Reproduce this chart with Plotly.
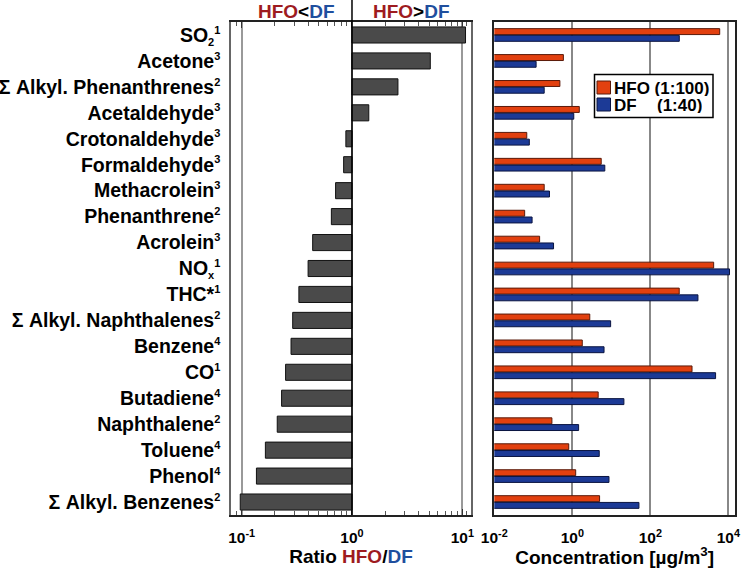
import plotly.graph_objects as go

SUP = "<sup><span style='font-size:11px'>{}</span></sup>"
SUB = "<sub><span style='font-size:11px'>{}</span></sub>"

categories = [
    "SO" + SUB.format("2") + SUP.format("1"), "Acetone" + SUP.format("3"),
    "Σ Alkyl. Phenanthrenes" + SUP.format("2"), "Acetaldehyde" + SUP.format("3"),
    "Crotonaldehyde" + SUP.format("3"), "Formaldehyde" + SUP.format("3"),
    "Methacrolein" + SUP.format("3"), "Phenanthrene" + SUP.format("2"),
    "Acrolein" + SUP.format("3"), "NO" + SUB.format("x") + SUP.format("1"),
    "THC*" + SUP.format("1"), "Σ Alkyl. Naphthalenes" + SUP.format("2"),
    "Benzene" + SUP.format("4"), "CO" + SUP.format("1"), "Butadiene" + SUP.format("4"),
    "Naphthalene" + SUP.format("2"), "Toluene" + SUP.format("4"), "Phenol" + SUP.format("4"),
    "Σ Alkyl. Benzenes" + SUP.format("2"),
]
ratio = [10.7, 5.13, 2.61, 1.42, 0.88, 0.84, 0.71, 0.65, 0.44, 0.40,
         0.33, 0.29, 0.28, 0.25, 0.23, 0.21, 0.164, 0.136, 0.097]
hfo = [6000, 0.59, 0.48, 1.51, 0.068, 5.5, 0.19, 0.060, 0.145, 4200,
       550, 2.8, 1.8, 1170, 4.6, 0.30, 0.81, 1.22, 5.0]
df = [552, 0.118, 0.19, 1.09, 0.079, 6.8, 0.26, 0.093, 0.33, 10700,
      1660, 9.6, 6.5, 4700, 21, 1.45, 4.9, 8.7, 51]
series_names = ["HFO", "DF"]
series_ratios = ["(1:100)", "(1:40)"]

ratio_ticks = [0.1, 1, 10]
ratio_ticktext = ["10<sup>-1</sup>", "10<sup>0</sup>", "10<sup>1</sup>"]
ratio_minor = [0.09] + [k / 10 for k in range(2, 10)] + list(range(2, 10)) + [11]
conc_ticks = [0.01, 1, 100, 10000]
conc_ticktext = ["10<sup>-2</sup>", "10<sup>0</sup>", "10<sup>2</sup>", "10<sup>4</sup>"]

RED_T = "#9e1b1f"
BLUE_T = "#1f4f9e"
RED_B = "#e2400f"
BLUE_B = "#1c3a96"
FONT = "Liberation Sans, Arial, sans-serif"
W, H = 742, 568


def px(x):
    return x / W


def py(y):
    return 1 - y / H


fig = go.Figure()
fig.add_trace(go.Bar(
    y=categories, x=[v - 1 for v in ratio], base=1, orientation="h",
    marker=dict(color="#4a4a4a", line=dict(color="#111111", width=1)),
    width=0.62, showlegend=False, xaxis="x", yaxis="y",
))
fig.add_trace(go.Bar(
    y=categories, x=hfo, orientation="h", name="HFO (1:100)", showlegend=False,
    marker=dict(color=RED_B, line=dict(color="#5a1a0a", width=1)),
    xaxis="x2", yaxis="y2",
))
fig.add_trace(go.Bar(
    y=categories, x=df, orientation="h", name="DF (1:40)", showlegend=False,
    marker=dict(color=BLUE_B, line=dict(color="#0a1440", width=1)),
    xaxis="x2", yaxis="y2",
))

ydom = [py(515), py(22)]
fig.update_layout(
    width=W, height=H,
    margin=dict(l=0, r=0, t=0, b=0, autoexpand=False),
    paper_bgcolor="white", plot_bgcolor="white",
    font=dict(family=FONT, size=16, color="black", weight="bold"),
    barmode="group", bargap=0.48, bargroupgap=0.12,
    showlegend=False,
    xaxis=dict(
        domain=[px(231), px(471)], type="log", range=[-1.097, 1.079], automargin=False,
        tickvals=ratio_ticks, ticktext=ratio_ticktext, tickfont=dict(size=15.5),
        ticks="inside", ticklen=6, tickcolor="#333", mirror="allticks",
        ticklabelstandoff=8,
        showline=True, linecolor="#222", linewidth=1.5,
        showgrid=True, gridcolor="#999", gridwidth=1.5, zeroline=False,
        minor=dict(tickvals=ratio_minor, ticks="inside", ticklen=4, tickcolor="#555", showgrid=False),
        title=dict(text=f"Ratio <span style='color:{RED_T}'>HFO</span>/<span style='color:{BLUE_T}'>DF</span>",
                   font=dict(size=19), standoff=3),
    ),
    yaxis=dict(
        domain=ydom, autorange="reversed", showline=True, linecolor="#666", linewidth=1.5,
        mirror=True, ticks="", tickfont=dict(size=19.5), ticklabelstandoff=5, showgrid=False,
        automargin=False,
    ),
    xaxis2=dict(
        domain=[px(494.3), px(735)], type="log", range=[-2, 4.17], anchor="y2", automargin=False,
        tickvals=conc_ticks, ticktext=conc_ticktext, tickfont=dict(size=15.5), ticks="",
        ticklabelstandoff=8,
        showline=True, linecolor="#222", linewidth=1.5, mirror=True,
        showgrid=True, gridcolor="#888", gridwidth=1.5, zeroline=False,
        title=dict(text="Concentration [µg/m<sup>3</sup>]", font=dict(size=19), standoff=3),
    ),
    yaxis2=dict(
        domain=ydom, matches="y", anchor="x2", showticklabels=False, ticks="", automargin=False,
        showline=True, linecolor="#222", linewidth=1.5, mirror=True, showgrid=False,
    ),
    shapes=[
        dict(type="line", xref="x", yref="paper", x0=1, x1=1, y0=ydom[0], y1=1.0,
             line=dict(color="black", width=1.5)),
        dict(type="rect", xref="paper", yref="paper", x0=px(594.5), x1=px(713), y0=py(117.5), y1=py(74.5),
             fillcolor="white", line=dict(color="black", width=1.5), layer="above"),
        dict(type="rect", xref="paper", yref="paper", x0=px(597), x1=px(610.5), y0=py(94), y1=py(81),
             fillcolor=RED_B, line=dict(color="#5a1a0a", width=1), layer="above"),
        dict(type="rect", xref="paper", yref="paper", x0=px(597), x1=px(610.5), y0=py(111), y1=py(98),
             fillcolor=BLUE_B, line=dict(color="#0a1440", width=1), layer="above"),
    ],
    annotations=[
        dict(text=f"<span style='color:{RED_T}'>HFO</span>&lt;<span style='color:{BLUE_T}'>DF</span>",
             xref="paper", yref="paper", x=px(296), y=py(11), showarrow=False,
             xanchor="center", yanchor="middle", font=dict(size=19)),
        dict(text=f"<span style='color:{RED_T}'>HFO</span>&gt;<span style='color:{BLUE_T}'>DF</span>",
             xref="paper", yref="paper", x=px(411), y=py(11), showarrow=False,
             xanchor="center", yanchor="middle", font=dict(size=19)),
        dict(text=f"{series_names[0]} {series_ratios[0]}", xref="paper", yref="paper",
             x=px(612.5), y=py(87.5), showarrow=False, xanchor="left", yanchor="middle",
             font=dict(size=17), height=16, borderpad=0),
        dict(text=series_names[1], xref="paper", yref="paper",
             x=px(612.5), y=py(104.5), showarrow=False, xanchor="left", yanchor="middle",
             font=dict(size=17), height=16, borderpad=0),
        dict(text=series_ratios[1], xref="paper", yref="paper",
             x=px(655.5), y=py(104.5), showarrow=False, xanchor="left", yanchor="middle",
             font=dict(size=17), height=16, borderpad=0),
    ],
)

fig.write_html("out.html", config={"displayModeBar": False},
               post_script="document.body.style.margin='0';")
